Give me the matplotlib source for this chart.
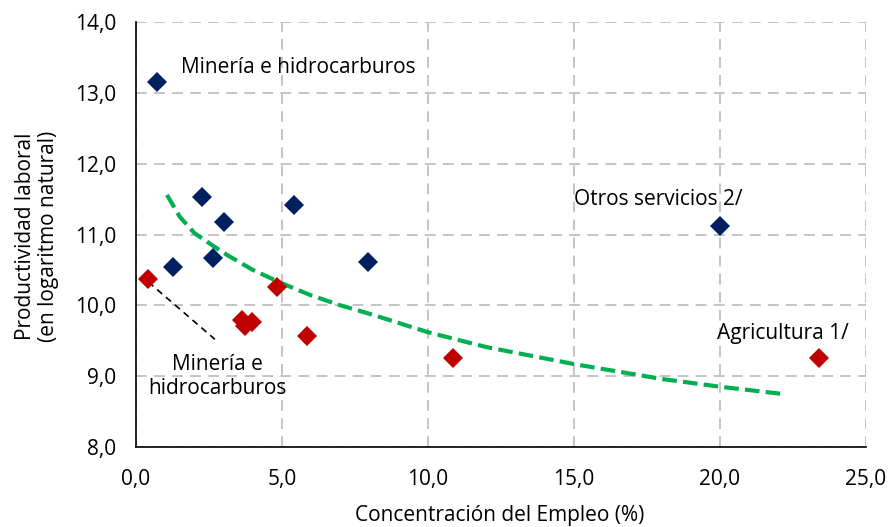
import matplotlib.pyplot as plt
import matplotlib.ticker as mticker

# puntos azules (sectores)
x_azul = [0.72, 2.26, 3.01, 5.41, 1.27, 2.64, 7.95, 20.0]
y_azul = [13.15, 11.53, 11.18, 11.42, 10.54, 10.67, 10.61, 11.12]

# puntos rojos
x_rojo = [0.41, 4.83, 3.62, 3.72, 3.98, 5.86, 10.86, 23.4]
y_rojo = [10.37, 10.26, 9.79, 9.71, 9.76, 9.56, 9.25, 9.25]

# tendencia
x_tend = [1.06, 1.5, 2, 3, 4, 5, 6, 7, 8, 10, 12, 15, 18, 20, 22.1]
y_tend = [11.56, 11.25, 11.02, 10.74, 10.5, 10.31, 10.14, 10.0, 9.88, 9.62, 9.41, 9.17, 8.96, 8.85, 8.75]

plt.rcParams['font.family'] = ['Open Sans', 'DejaVu Sans']
FS = 15

fig = plt.figure(figsize=(8.89, 5.27), dpi=100)
ax = fig.add_axes([0.153, 0.152, 0.821, 0.806])

ax.plot(x_tend, y_tend, color="#00B050", linewidth=3, dashes=(3.5, 1.5), zorder=2)
ax.plot([0.42, 2.7], [10.33, 9.52], color="black", linewidth=1.2, dashes=(4, 3), zorder=2)
ax.plot(x_azul, y_azul, "D", color="#002060", markersize=10, markeredgewidth=0, zorder=3)
ax.plot(x_rojo, y_rojo, "D", color="#C00000", markersize=10, markeredgewidth=0, zorder=3)

ax.set_xlim(0, 25)
ax.set_ylim(8, 14)
ax.xaxis.set_major_locator(mticker.MultipleLocator(5))
ax.yaxis.set_major_locator(mticker.MultipleLocator(1))
fmt = mticker.FuncFormatter(lambda v, p: f"{v:.1f}".replace(".", ","))
ax.xaxis.set_major_formatter(fmt)
ax.yaxis.set_major_formatter(fmt)
ax.tick_params(axis="x", length=0, labelsize=FS, pad=16)
ax.tick_params(axis="y", length=0, labelsize=FS, pad=14)

ax.grid(True, color="#BFBFBF", linewidth=1.3, dashes=(6, 4))
ax.set_axisbelow(True)
for s in ["top", "right"]:
    ax.spines[s].set_visible(False)
for s in ["left", "bottom"]:
    ax.spines[s].set_linewidth(1.2)
    ax.spines[s].set_color("black")

ax.text(1.55, 13.36, "Minería e hidrocarburos", fontsize=FS, va="center", ha="left")
ax.text(17.9, 11.49, "Otros servicios 2/", fontsize=FS, va="center", ha="center")
ax.text(22.15, 9.6, "Agricultura 1/", fontsize=FS, va="center", ha="center")
ax.text(2.8, 9.0, "Minería e\nhidrocarburos", fontsize=FS, va="center", ha="center", linespacing=1.2)

fig.text(500 / 889, 1 - 515 / 527, "Concentración del Empleo (%)", fontsize=FS, ha="center", va="center")
fig.text(37 / 889, 1 - 236 / 527, "Productividad laboral\n(en logaritmo natural)", fontsize=FS,
         ha="center", va="center", rotation=90, linespacing=1.15)

fig.savefig("out.png", dpi=100)
